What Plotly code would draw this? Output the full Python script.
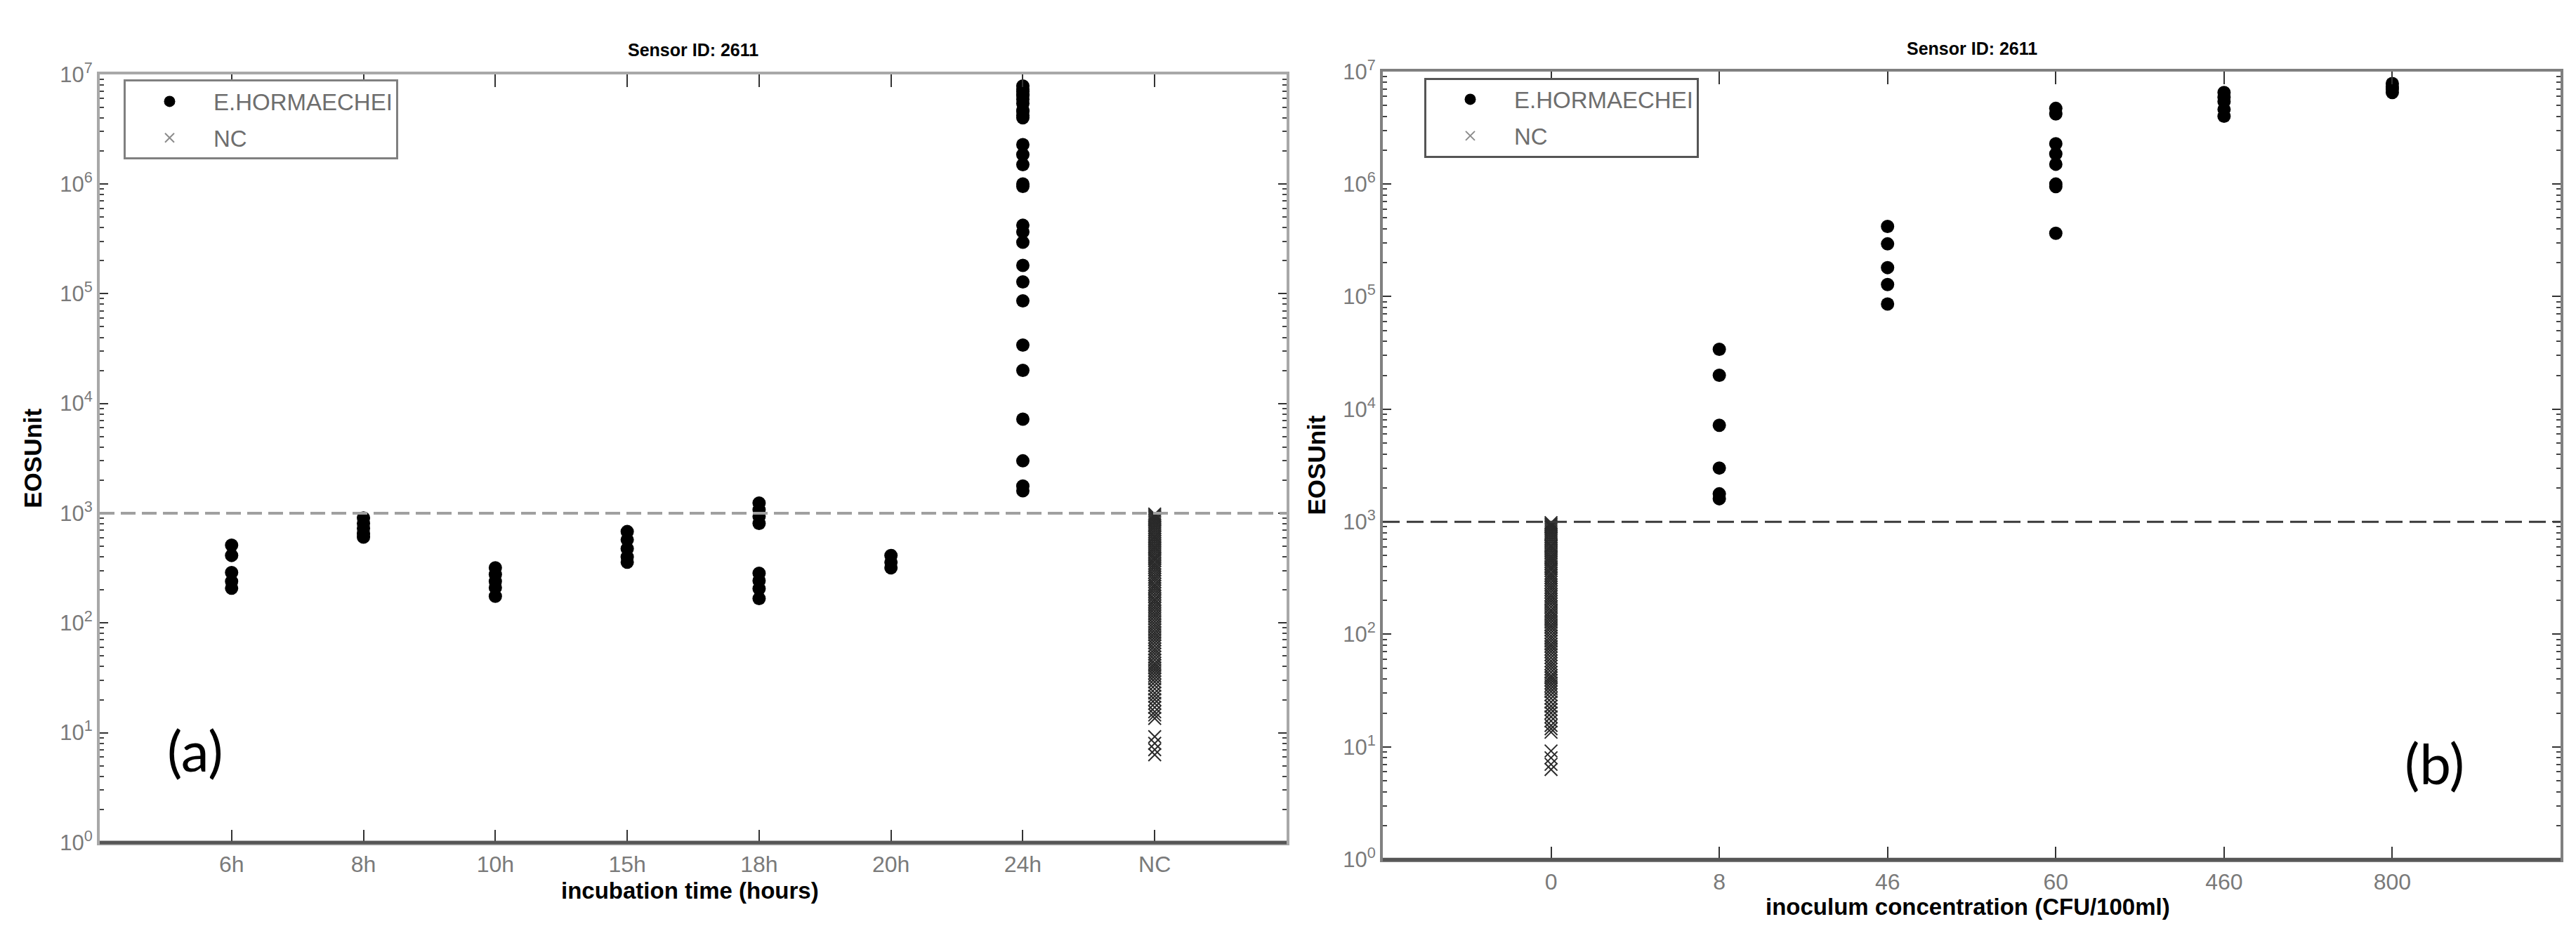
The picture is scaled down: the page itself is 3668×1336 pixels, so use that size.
import plotly.graph_objects as go

# ---------------- data ----------------
LEFT_CATS = ["6h", "8h", "10h", "15h", "18h", "20h", "24h", "NC"]
RIGHT_CATS = ["0", "8", "46", "60", "460", "800"]

E_6H = [511, 412, 288, 239, 207]
E_8H = [905, 808, 728, 654, 606]
E_10H = [318, 276, 239, 210, 175]
E_15H = [680, 572, 475, 400, 357]
E_18H = [1239, 1074, 931, 807, 284, 243, 205, 167]
E_20H = [412, 357, 318]

E_C8 = [34000, 20000, 7200, 3000, 1770, 1600]
E_C46 = [420000, 294000, 181000, 128000, 86000]
E_C60 = [4700000, 4200000, 2280000, 1850000, 1500000, 1000000, 950000, 365000]
E_C460 = [6500000, 5900000, 5400000, 4600000, 4000000]
E_C800 = [7800000, 7300000, 6950000, 6500000]
E_24H = E_C8 + E_C46 + E_C60 + E_C460 + E_C800

NC_VALUES = [980, 950, 920, 890, 860, 830, 800, 770, 740, 710, 680, 650, 620,
             600, 575, 550, 525, 500, 480, 460, 440, 420, 400, 385, 370, 350,
             335, 320, 305, 290, 275, 262, 250, 238, 225, 215, 205, 195, 185,
             175, 165, 158, 150, 142, 135, 128, 121, 115, 109, 103, 97, 92, 87,
             82, 78, 74, 70, 66, 62, 58, 55, 52, 49, 46, 43, 41, 39, 37, 35, 33,
             31, 29, 27, 25, 23, 21.5, 20, 18.5, 17, 15.5, 14.5, 13.5, 9.2, 8.0,
             7.0, 6.3]

THRESHOLD = 1000
Y_TICK_VALS = [1, 10, 100, 1000, 10000, 100000, 1000000, 10000000]
Y_TICK_TEXT = ["10<sup>%d</sup>" % i for i in range(8)]

LEFT_GROUPS = [("6h", E_6H), ("8h", E_8H), ("10h", E_10H), ("15h", E_15H),
               ("18h", E_18H), ("20h", E_20H), ("24h", E_24H)]
RIGHT_GROUPS = [("8", E_C8), ("46", E_C46), ("60", E_C60), ("460", E_C460),
                ("800", E_C800)]

# ---------------- styling ----------------
FONT = "Liberation Sans, Arial, sans-serif"
TICK_GRAY = "#7a7a7a"
DOT = dict(symbol="circle", size=19, color="black")
XMARK = dict(symbol="x-thin", size=18, color="#2a2a2a", line=dict(color="#2a2a2a", width=2))
XMARK_LEG = dict(symbol="x-thin", size=13, color="#8c8c8c", line=dict(color="#8c8c8c", width=2))

fig = go.Figure()


def add_panel(groups, nc_cat, xa, ya, leg):
    xs, ys = [], []
    for cat, vals in groups:
        xs += [cat] * len(vals)
        ys += list(vals)
    fig.add_trace(go.Scatter(x=xs, y=ys, mode="markers", marker=DOT, name="E.HORMAECHEI",
                             xaxis=xa, yaxis=ya, legend=leg, legendgroup="e" + leg))
    fig.add_trace(go.Scatter(x=[nc_cat] * len(NC_VALUES), y=NC_VALUES, mode="markers",
                             marker=XMARK, name="NC", xaxis=xa, yaxis=ya, legend=leg,
                             showlegend=False, legendgroup="n" + leg))
    # legend entry only (lighter glyph as in the reference legend); null y draws nothing
    fig.add_trace(go.Scatter(x=[nc_cat], y=[None], mode="markers", marker=XMARK_LEG,
                             name="NC", xaxis=xa, yaxis=ya, legend=leg,
                             legendgroup="n" + leg, hoverinfo="skip"))


add_panel(LEFT_GROUPS, "NC", "x", "y", "legend")
add_panel(RIGHT_GROUPS, "0", "x2", "y2", "legend2")

W, H = 3668, 1336


def xax(domain, cats, anchor, linecolor):
    return dict(domain=domain, anchor=anchor, type="category", categoryorder="array",
                categoryarray=cats, range=[-1, len(cats)], showline=True,
                linecolor=linecolor, linewidth=4, mirror="ticks", ticks="inside",
                ticklen=18, tickwidth=2, tickcolor="#333", showgrid=False,
                zeroline=False, tickfont=dict(family=FONT, size=32, color=TICK_GRAY))


def yax(domain, anchor, linecolor):
    return dict(domain=domain, anchor=anchor, type="log", range=[0, 7],
                tickvals=Y_TICK_VALS, ticktext=Y_TICK_TEXT, showline=True,
                linecolor=linecolor, linewidth=4, mirror="ticks", ticks="inside",
                ticklen=12, tickwidth=2, tickcolor="#333", showgrid=False,
                zeroline=False, tickfont=dict(family=FONT, size=31, color=TICK_GRAY),
                minor=dict(ticks="inside", ticklen=6, tickwidth=2, tickcolor="#444",
                           dtick="D1", showgrid=False))


LEG_FONT = dict(family=FONT, size=33, color="#6e6e6e")
fig.update_layout(
    width=W, height=H, margin=dict(l=0, r=0, t=0, b=0),
    paper_bgcolor="white", plot_bgcolor="white",
    xaxis=xax([134 / W, 1824 / W], LEFT_CATS, "y", "#a8a8a8"),
    yaxis=yax([1 - 1206 / H, 1 - 78 / H], "x", "#a8a8a8"),
    xaxis2=xax([1961 / W, 3638 / W], RIGHT_CATS, "y2", "#808080"),
    yaxis2=yax([1 - 1231 / H, 1 - 74 / H], "x2", "#808080"),
    legend=dict(x=168 / W, y=1 - 86 / H, xanchor="left", yanchor="top",
                bordercolor="#808080", borderwidth=3, bgcolor="white",
                itemwidth=115, tracegroupgap=6, font=LEG_FONT),
    legend2=dict(x=2020 / W, y=1 - 83 / H, xanchor="left", yanchor="top",
                 bordercolor="#555555", borderwidth=3, bgcolor="white",
                 itemwidth=115, tracegroupgap=6, font=LEG_FONT),
    font=dict(family=FONT),
)

# threshold lines
fig.add_shape(type="line", xref="x domain", yref="y", x0=0, x1=1, y0=THRESHOLD,
              y1=THRESHOLD, line=dict(color="#a0a0a0", width=4, dash="21px,9px"))
fig.add_shape(type="line", xref="x2 domain", yref="y2", x0=0, x1=1, y0=THRESHOLD,
              y1=THRESHOLD, line=dict(color="#3a3a3a", width=3, dash="24px,10px"))
# darker bottom axis edges
fig.add_shape(type="line", xref="x domain", yref="y domain", x0=0, x1=1, y0=0, y1=0,
              line=dict(color="#555555", width=5))
fig.add_shape(type="line", xref="x2 domain", yref="y2 domain", x0=0, x1=1, y0=0, y1=0,
              line=dict(color="#555555", width=5))

TITLE_FONT = dict(family=FONT, size=25, color="black")
AX_FONT = dict(family=FONT, size=33, color="black")
ann = [
    dict(text="<b>Sensor ID: 2611</b>", x=979 / W, y=1 - 42 / H, font=TITLE_FONT),
    dict(text="<b>Sensor ID: 2611</b>", x=2800 / W, y=1 - 40 / H, font=TITLE_FONT),
    dict(text="<b>incubation time (hours)</b>", x=974 / W, y=1 - 1277 / H, font=AX_FONT),
    dict(text="<b>inoculum concentration (CFU/100ml)</b>", x=2794 / W, y=1 - 1300 / H,
         font=AX_FONT),
    dict(text="<b>EOSUnit</b>", x=39 / W, y=1 - 642 / H, textangle=-90,
         font=dict(family=FONT, size=35, color="black")),
    dict(text="<b>EOSUnit</b>", x=1866 / W, y=1 - 652 / H, textangle=-90,
         font=dict(family=FONT, size=35, color="black")),
    dict(text="(a)", x=270 / W, y=1 - 1070 / H,
         font=dict(family="Lato, Open Sans, sans-serif", size=80, color="black")),
    dict(text="(b)", x=3458 / W, y=1 - 1089 / H,
         font=dict(family="Lato, Open Sans, sans-serif", size=80, color="black")),
]
for a in ann:
    a.update(xref="paper", yref="paper", showarrow=False, xanchor="center",
             yanchor="middle")
    fig.add_annotation(**a)

fig.write_html("out.html")
